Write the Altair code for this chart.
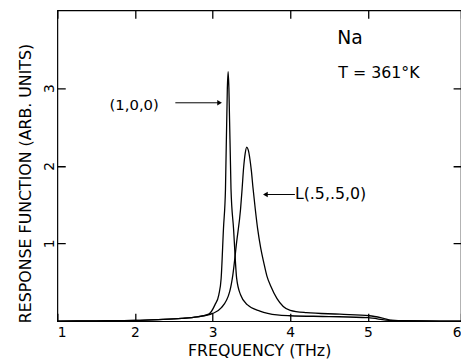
import altair as alt
import pandas as pd

# (1,0,0) curve
x_100 = [1.0, 1.5, 2.0, 2.3, 2.6, 2.8, 2.95, 3.03, 3.08, 3.11, 3.14, 3.166, 3.19, 3.20, 3.21,
         3.237, 3.27, 3.31, 3.36, 3.45, 3.61, 3.83, 4.0, 4.5, 5.0, 5.3, 6.2]
y_100 = [0.0, 0.005, 0.01, 0.02, 0.035, 0.055, 0.09, 0.21, 0.34, 0.55, 1.19, 1.70, 3.0, 3.21, 3.0,
         1.70, 1.19, 0.55, 0.34, 0.21, 0.13, 0.08, 0.07, 0.06, 0.045, 0.01, 0.0]

# L(.5,.5,0) curve
x_L = [1.0, 1.5, 2.0, 2.3, 2.6, 2.8, 3.0, 3.11, 3.22, 3.26, 3.31, 3.36, 3.38, 3.40, 3.42, 3.44, 3.46,
       3.48, 3.50, 3.52, 3.55, 3.58, 3.62, 3.66, 3.70, 3.75, 3.83, 3.91, 4.0, 4.21, 4.64, 5.02, 5.19, 5.32, 6.2]
y_L = [0.0, 0.005, 0.01, 0.02, 0.035, 0.055, 0.10, 0.17, 0.38, 0.59, 1.02, 1.44, 1.70, 1.98, 2.16, 2.24, 2.20,
       2.09, 1.93, 1.72, 1.44, 1.19, 0.94, 0.75, 0.58, 0.45, 0.29, 0.19, 0.14, 0.11, 0.09, 0.07, 0.04, 0.01, 0.0]

y_tick_vals = [1, 2, 3]
# the original frame ends a little beyond 6; its corner carries the "6" label
x_label_vals = [1, 2, 3, 4, 5, 6.2]
x_min, x_max = 1, 6.2
y_min, y_max = 0, 4

# annotations
ann_text = ["Na", "T =  361°K", "(1,0,0)", "L(.5,.5,0)"]
ann_x = [4.77, 4.62, 1.99, 4.06]
ann_y = [3.64, 3.19, 2.78, 1.63]

arrow_x1 = [2.52, 3.68]
arrow_x2 = [3.09, 4.06]
arrow_y = [2.81, 1.63]

W, H = 409, 315
FONT = "DejaVu Sans"
T = 8  # inward tick length (px), drawn as the two end dashes of each grid line

df = pd.concat([
    pd.DataFrame({"freq": x_100, "resp": y_100, "series": "(1,0,0)"}),
    pd.DataFrame({"freq": x_L, "resp": y_L, "series": "L(.5,.5,0)"}),
])

xs = alt.Scale(domain=[x_min, x_max], nice=False, zero=False)
ys = alt.Scale(domain=[y_min, y_max], nice=False)

curves = alt.Chart(df).mark_line(color="black", strokeWidth=1.3, interpolate="monotone").encode(
    x=alt.X("freq:Q", scale=xs, axis=alt.Axis(
        values=x_label_vals, labelExpr="datum.value > 6 ? '6' : format(datum.value, 'd')",
        title="FREQUENCY (THz)", tickSize=0, domain=False,
        grid=True, gridColor="black", gridOpacity=1, gridWidth=1.3, gridDash=[T, H - 2 * T, T, 100],
        labelPadding=5, titlePadding=3, labelFontSize=14, titleFontSize=16)),
    y=alt.Y("resp:Q", scale=ys, axis=alt.Axis(
        values=y_tick_vals, format="d", title="RESPONSE FUNCTION  (ARB. UNITS)", tickSize=0, domain=False,
        grid=True, gridColor="black", gridOpacity=1, gridWidth=1.3, gridDash=[T, W - 2 * T, T, 100],
        labelAngle=270, labelPadding=1, titlePadding=9, titleY=175, labelFontSize=14,
        titleFontSize=16)),
    detail="series:N",
)

adf = pd.DataFrame({"t": ann_text, "x": ann_x, "y": ann_y})
na = alt.Chart(adf.iloc[[0]]).mark_text(font=FONT, fontSize=19, align="center", baseline="middle").encode(
    x=alt.X("x:Q", scale=xs), y=alt.Y("y:Q", scale=ys), text="t:N")
others = alt.Chart(adf.iloc[[1, 3]]).mark_text(font=FONT, fontSize=16, align="left", baseline="middle").encode(
    x=alt.X("x:Q", scale=xs), y=alt.Y("y:Q", scale=ys), text="t:N")
lab100 = alt.Chart(adf.iloc[[2]]).mark_text(font=FONT, fontSize=15, align="center", baseline="middle").encode(
    x=alt.X("x:Q", scale=xs), y=alt.Y("y:Q", scale=ys), text="t:N")

ardf = pd.DataFrame({"x1": arrow_x1, "x2": arrow_x2, "y": arrow_y})
shafts = alt.Chart(ardf).mark_rule(color="black", strokeWidth=1).encode(
    x=alt.X("x1:Q", scale=xs), x2="x2:Q", y=alt.Y("y:Q", scale=ys))
head_r = alt.Chart(ardf.iloc[[0]]).mark_point(shape="triangle-right", filled=True, color="black", size=30, opacity=1).encode(
    x=alt.X("x2:Q", scale=xs), y=alt.Y("y:Q", scale=ys))
head_l = alt.Chart(ardf.iloc[[1]]).mark_point(shape="triangle-left", filled=True, color="black", size=30, opacity=1).encode(
    x=alt.X("x1:Q", scale=xs), y=alt.Y("y:Q", scale=ys))

chart = alt.layer(curves, na, others, lab100, shafts, head_r, head_l).properties(
    width=W, height=H,
    autosize=alt.AutoSizeParams(type="none"),
    padding={"left": 50, "top": 0, "right": 0, "bottom": 38},
).configure_view(stroke="black", strokeWidth=1.2).configure_axis(
    labelFont=FONT, titleFont=FONT, labelColor="black", titleColor="black", titleFontWeight="normal"
)

chart.save("out.html", embed_options={"renderer": "svg", "actions": False})
